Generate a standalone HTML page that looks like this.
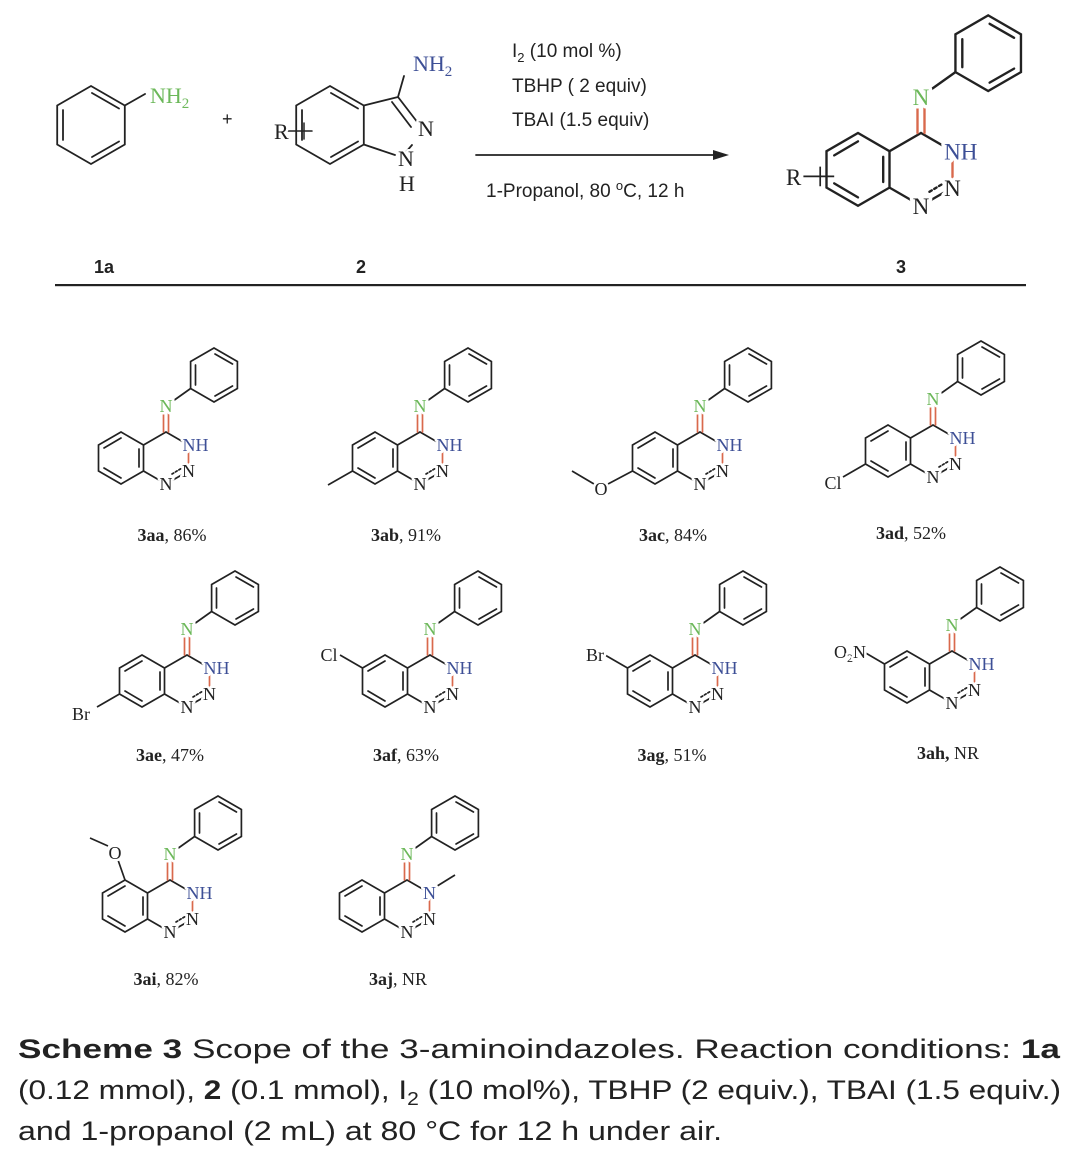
<!DOCTYPE html>
<html><head><meta charset="utf-8"><style>
html,body{margin:0;padding:0;background:#fff}
svg{display:block}
.a{font-family:"Liberation Serif",serif;font-size:18px;fill:#222;stroke:#fff;stroke-width:5px;paint-order:stroke;stroke-linejoin:round}
.g{fill:#6cb85a}.b{fill:#3d4f96}
.lab{font-family:"Liberation Serif",serif;font-size:18px;fill:#222}
.sans{font-family:"Liberation Sans",sans-serif;fill:#222}
.big .a{font-size:16.5px}
</style></head><body>
<svg width="1080" height="1151" viewBox="0 0 1080 1151" xmlns="http://www.w3.org/2000/svg">
<defs>
<g id="core" fill="none" stroke="#222" stroke-width="1.7" stroke-linecap="round">
  <path d="M0,0 L22.5,13 M22.5,39 L0,52 L-22.5,39 M-22.5,13 L0,0"/>
  <path d="M22.5,13 L22.5,39" stroke="#d9694c"/>
  <path d="M6,42 L16,36" stroke-dasharray="2,2"/>
  <path d="M-2.5,0 L-2.5,-26 M2.5,0 L2.5,-26" stroke="#d9694c"/>
  <path d="M0,-26 L24.6,-43.5"/>
  <path d="M48,-84 L71.4,-70.5 L71.4,-43.5 L48,-30 L24.6,-43.5 L24.6,-70.5 Z"/>
  <path d="M49,-78 L66.5,-68 M66.5,-46 L49,-36 M29.5,-47 L29.5,-67"/>
  <path d="M-22.5,13 L-22.5,39 L-45,52 L-67.5,39 L-67.5,13 L-45,0 Z"/>
  <path d="M-27,17 L-27,35 M-45,46 L-62,36 M-62,16 L-45,6"/>
</g>
</defs>

<g fill="none" stroke="#222" stroke-width="1.8" stroke-linecap="round">
  <path d="M91,86 L124.8,105.5 L124.8,144.5 L91,164 L57.2,144.5 L57.2,105.5 Z"/>
  <path d="M92,93 L119,108.5 M119,141.5 L92,157 M63,110 L63,140"/>
  <path d="M124.8,105.5 L145,94"/>
  <path d="M330,86 L363.8,105.5 L363.8,144.5 L330,164 L296.2,144.5 L296.2,105.5 Z"/>
  <path d="M331,93 L358,108.5 M358,141.5 L331,157 M302,110 L302,140"/>
  <path d="M363.8,105.5 L398,97 L418,123 M392,102 L411,127 M363.8,144.5 L395,155 M412,145 L406,152 M398,97 L404,76"/>
  <path d="M288,131 L312,131 M304,123 L304,139" stroke-width="1.5"/>
  <path d="M476,155 L720,155"/>
</g>
<path d="M729,155 L713,150 L713,160 Z" fill="#222"/>
<text x="150" y="103" class="a g" style="font-size:22px">NH<tspan dy="5" font-size="15">2</tspan></text>
<text x="413" y="71" class="a b" style="font-size:22px">NH<tspan dy="5" font-size="15">2</tspan></text>
<text x="418" y="136" class="a" style="font-size:22px">N</text>
<text x="398" y="166" class="a" style="font-size:22px">N</text>
<text x="399" y="191" class="a" style="font-size:22px">H</text>
<text x="274" y="139" class="a" style="font-size:22px">R</text>
<text x="222" y="125" class="sans" style="font-size:18px">+</text>

<text x="512" y="57" class="sans" style="font-size:19px">I<tspan dy="5" font-size="13">2</tspan><tspan dy="-5"> (10 mol %)</tspan></text>
<text x="512" y="92" class="sans" style="font-size:19px">TBHP ( 2 equiv)</text>
<text x="512" y="126" class="sans" style="font-size:19px">TBAI (1.5 equiv)</text>
<text x="486" y="197" class="sans" style="font-size:19px">1-Propanol, 80 <tspan dy="-7" font-size="13">o</tspan><tspan dy="7">C, 12 h</tspan></text>

<g class="big" transform="translate(921,133) scale(1.4)">
  <use href="#core"/>
  <path d="M-84,31 L-62,31 M-72,24 L-72,38" stroke="#222" stroke-width="1.2" fill="none"/>
  <text x="0" y="-20" class="a g" text-anchor="middle">N</text>
  <text x="16.5" y="19" class="a b">NH</text>
  <text x="22.5" y="45" class="a" text-anchor="middle">N</text>
  <text x="0" y="58" class="a" text-anchor="middle">N</text>
  <text x="-91" y="37" class="a" text-anchor="middle">R</text>
</g>

<text x="94" y="273" class="sans" style="font-size:18px;font-weight:bold">1a</text>
<text x="356" y="273" class="sans" style="font-size:18px;font-weight:bold">2</text>
<text x="896" y="273" class="sans" style="font-size:18px;font-weight:bold">3</text>
<rect x="55" y="284" width="971" height="2.2" fill="#222"/>

<g transform="translate(166,432)"><use href="#core"/>
  <text x="0" y="-20" class="a g" text-anchor="middle">N</text><text x="16.5" y="19" class="a b">NH</text>
  <text x="22.5" y="45" class="a" text-anchor="middle">N</text><text x="0" y="58" class="a" text-anchor="middle">N</text></g>
<g transform="translate(420,432)"><use href="#core"/>
  <path d="M-67.5,39 L-92,53" stroke="#222" stroke-width="1.7"/>
  <text x="0" y="-20" class="a g" text-anchor="middle">N</text><text x="16.5" y="19" class="a b">NH</text>
  <text x="22.5" y="45" class="a" text-anchor="middle">N</text><text x="0" y="58" class="a" text-anchor="middle">N</text></g>
<g transform="translate(700,432)"><use href="#core"/>
  <path d="M-67.5,39 L-92,52 M-106,52 L-128,39" stroke="#222" stroke-width="1.7" fill="none"/>
  <text x="0" y="-20" class="a g" text-anchor="middle">N</text><text x="16.5" y="19" class="a b">NH</text>
  <text x="22.5" y="45" class="a" text-anchor="middle">N</text><text x="0" y="58" class="a" text-anchor="middle">N</text>
  <text x="-99" y="63" class="a" text-anchor="middle">O</text></g>
<g transform="translate(933,425)"><use href="#core"/>
  <path d="M-67.5,39 L-90,52" stroke="#222" stroke-width="1.7"/>
  <text x="0" y="-20" class="a g" text-anchor="middle">N</text><text x="16.5" y="19" class="a b">NH</text>
  <text x="22.5" y="45" class="a" text-anchor="middle">N</text><text x="0" y="58" class="a" text-anchor="middle">N</text>
  <text x="-100" y="64" class="a" text-anchor="middle">Cl</text></g>

<text x="172" y="541" class="lab" text-anchor="middle"><tspan font-weight="bold">3aa</tspan>, 86%</text>
<text x="406" y="541" class="lab" text-anchor="middle"><tspan font-weight="bold">3ab</tspan>, 91%</text>
<text x="673" y="541" class="lab" text-anchor="middle"><tspan font-weight="bold">3ac</tspan>, 84%</text>
<text x="911" y="539" class="lab" text-anchor="middle"><tspan font-weight="bold">3ad</tspan>, 52%</text>

<g transform="translate(187,655)"><use href="#core"/>
  <path d="M-67.5,39 L-90,52" stroke="#222" stroke-width="1.7"/>
  <text x="0" y="-20" class="a g" text-anchor="middle">N</text><text x="16.5" y="19" class="a b">NH</text>
  <text x="22.5" y="45" class="a" text-anchor="middle">N</text><text x="0" y="58" class="a" text-anchor="middle">N</text>
  <text x="-106" y="65" class="a" text-anchor="middle">Br</text></g>
<g transform="translate(430,655)"><use href="#core"/>
  <path d="M-67.5,13 L-90,0" stroke="#222" stroke-width="1.7"/>
  <text x="0" y="-20" class="a g" text-anchor="middle">N</text><text x="16.5" y="19" class="a b">NH</text>
  <text x="22.5" y="45" class="a" text-anchor="middle">N</text><text x="0" y="58" class="a" text-anchor="middle">N</text>
  <text x="-101" y="6" class="a" text-anchor="middle">Cl</text></g>
<g transform="translate(695,655)"><use href="#core"/>
  <path d="M-67.5,13 L-90,0" stroke="#222" stroke-width="1.7"/>
  <text x="0" y="-20" class="a g" text-anchor="middle">N</text><text x="16.5" y="19" class="a b">NH</text>
  <text x="22.5" y="45" class="a" text-anchor="middle">N</text><text x="0" y="58" class="a" text-anchor="middle">N</text>
  <text x="-100" y="6" class="a" text-anchor="middle">Br</text></g>
<g transform="translate(952,651)"><use href="#core"/>
  <path d="M-67.5,13 L-88,1" stroke="#222" stroke-width="1.7"/>
  <text x="0" y="-20" class="a g" text-anchor="middle">N</text><text x="16.5" y="19" class="a b">NH</text>
  <text x="22.5" y="45" class="a" text-anchor="middle">N</text><text x="0" y="58" class="a" text-anchor="middle">N</text>
  <text x="-86" y="7" class="a" text-anchor="end">O<tspan dy="4" font-size="12">2</tspan><tspan dy="-4">N</tspan></text></g>

<text x="170" y="761" class="lab" text-anchor="middle"><tspan font-weight="bold">3ae</tspan>, 47%</text>
<text x="406" y="761" class="lab" text-anchor="middle"><tspan font-weight="bold">3af</tspan>, 63%</text>
<text x="672" y="761" class="lab" text-anchor="middle"><tspan font-weight="bold">3ag</tspan>, 51%</text>
<text x="948" y="759" class="lab" text-anchor="middle"><tspan font-weight="bold">3ah,</tspan> NR</text>

<g transform="translate(170,880)"><use href="#core"/>
  <path d="M-45,0 L-52,-20 M-62,-34 L-80,-42" stroke="#222" stroke-width="1.7" fill="none"/>
  <text x="0" y="-20" class="a g" text-anchor="middle">N</text><text x="16.5" y="19" class="a b">NH</text>
  <text x="22.5" y="45" class="a" text-anchor="middle">N</text><text x="0" y="58" class="a" text-anchor="middle">N</text>
  <text x="-55" y="-21" class="a" text-anchor="middle">O</text></g>
<g transform="translate(407,880)"><use href="#core"/>
  <path d="M27,8 L48,-5" stroke="#222" stroke-width="1.7"/>
  <text x="0" y="-20" class="a g" text-anchor="middle">N</text><text x="22.5" y="19" class="a b" text-anchor="middle">N</text>
  <text x="22.5" y="45" class="a" text-anchor="middle">N</text><text x="0" y="58" class="a" text-anchor="middle">N</text></g>

<text x="166" y="985" class="lab" text-anchor="middle"><tspan font-weight="bold">3ai</tspan>, 82%</text>
<text x="398" y="985" class="lab" text-anchor="middle"><tspan font-weight="bold">3aj</tspan>, NR</text>

<text x="18" y="1058" class="sans" style="font-size:27px" textLength="1042" lengthAdjust="spacingAndGlyphs"><tspan font-weight="bold">Scheme 3</tspan>  Scope of the 3-aminoindazoles. Reaction conditions: <tspan font-weight="bold">1a</tspan></text>
<text x="18" y="1099" class="sans" style="font-size:27px" textLength="1043" lengthAdjust="spacingAndGlyphs">(0.12 mmol), <tspan font-weight="bold">2</tspan> (0.1 mmol), I<tspan dy="6" font-size="18">2</tspan><tspan dy="-6"> (10 mol%), TBHP (2 equiv.), TBAI (1.5 equiv.)</tspan></text>
<text x="18" y="1140" class="sans" style="font-size:27px" textLength="704" lengthAdjust="spacingAndGlyphs">and 1-propanol (2 mL) at 80 °C for 12 h under air.</text>
</svg>
</body></html>
